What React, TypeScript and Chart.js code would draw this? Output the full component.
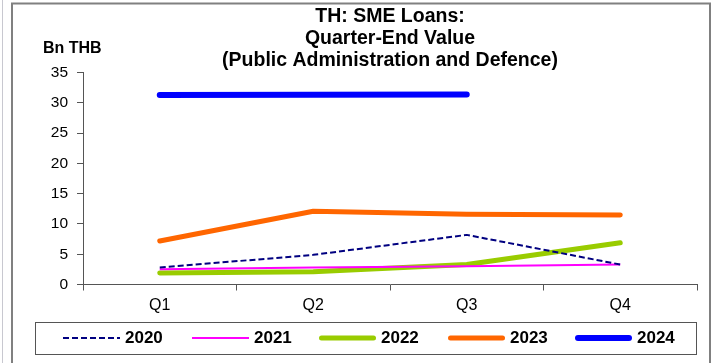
import React, { useEffect, useRef } from "react";
import { Chart, registerables } from "chart.js";

Chart.register(...registerables);

const categories = ["Q1", "Q2", "Q3", "Q4"];
const years = ["2020", "2021", "2022", "2023", "2024"];
const s2020 = [2.8, 4.9, 8.2, 3.3];
const s2021 = [2.5, 2.8, 3.0, 3.3];
const s2022 = [1.9, 2.1, 3.3, 6.9];
const s2023 = [7.2, 12.1, 11.6, 11.5];
const s2024 = [31.3, 31.35, 31.4, null];
const titleLines = ["TH: SME Loans:", "Quarter-End Value", "(Public Administration and Defence)"];
const unitLabel = "Bn THB";

const colors = ["#000080", "#FF00FF", "#99CC00", "#FF6600", "#0000FF"];
const widths = [2, 2, 5, 5, 6];
const dashes: number[][] = [[6, 3], [], [], [], []];

const FONT = "'Liberation Sans', Arial, sans-serif";

export default function App() {
  const ref = useRef<HTMLCanvasElement | null>(null);
  useEffect(() => {
    document.body.style.margin = "0";
    const canvas = ref.current!;
    const seriesList = [s2020, s2021, s2022, s2023, s2024];
    const decor = {
      id: "decor",
      beforeDraw(chart: any) {
        const ctx = chart.ctx;
        ctx.save();
        ctx.fillStyle = "#fff";
        ctx.fillRect(0, 0, chart.width, chart.height);
        ctx.strokeStyle = "#c8c8d0";
        ctx.lineWidth = 1;
        ctx.beginPath();
        ctx.moveTo(2.5, 0);
        ctx.lineTo(2.5, chart.height);
        ctx.stroke();
        ctx.strokeStyle = "#808080";
        ctx.lineWidth = 2;
        ctx.beginPath();
        ctx.moveTo(12, chart.height);
        ctx.lineTo(12, 3.5);
        ctx.lineTo(710, 3.5);
        ctx.lineTo(710, chart.height);
        ctx.stroke();
        ctx.restore();
      },
      afterDraw(chart: any) {
        const ctx = chart.ctx;
        const area = chart.chartArea;
        ctx.save();
        ctx.fillStyle = "#000";
        ctx.textAlign = "center";
        ctx.textBaseline = "middle";
        ctx.font = `bold 19.5px ${FONT}`;
        const cx = (area.left + area.right) / 2;
        titleLines.forEach((t, i) => ctx.fillText(t, cx, 17 + i * 22));
        ctx.font = `bold 16px ${FONT}`;
        ctx.textAlign = "left";
        ctx.fillText(unitLabel, 43, 49);
        // legend
        ctx.strokeStyle = "#555";
        ctx.lineWidth = 1;
        ctx.strokeRect(35.5, 322.5, 661, 32);
        const ly = 338;
        const startX = [63, 192, 319, 448, 575];
        years.forEach((y, i) => {
          const x0 = startX[i];
          ctx.save();
          ctx.strokeStyle = colors[i];
          ctx.lineWidth = widths[i];
          ctx.lineCap = i >= 2 ? "round" : "butt";
          ctx.setLineDash(dashes[i]);
          ctx.beginPath();
          const inset = i >= 2 ? widths[i] / 2 : 0;
          ctx.moveTo(x0 + inset, ly);
          ctx.lineTo(x0 + 57 - inset, ly);
          ctx.stroke();
          ctx.restore();
          ctx.font = `bold 17px ${FONT}`;
          ctx.fillStyle = "#000";
          ctx.textAlign = "left";
          ctx.textBaseline = "middle";
          ctx.fillText(y, x0 + 62, ly);
        });
        ctx.restore();
      },
    };
    const chart = new Chart(canvas, {
      type: "line",
      data: {
        labels: categories,
        datasets: years.map((y, i) => ({
          label: y,
          data: seriesList[i] as any,
          borderColor: colors[i],
          backgroundColor: colors[i],
          borderWidth: widths[i],
          borderDash: dashes[i],
          borderCapStyle: i >= 2 ? "round" : "butt",
          borderJoinStyle: "round",
          pointRadius: 0,
          pointHoverRadius: 0,
          tension: 0,
          spanGaps: false,
          fill: false,
        })),
      },
      options: {
        responsive: false,
        animation: false,
        events: [],
        layout: { padding: { left: 0, right: 15, top: 72.7, bottom: 0 } },
        plugins: {
          legend: { display: false },
          title: { display: false },
          tooltip: { enabled: false },
        },
        scales: {
          x: {
            type: "category",
            offset: true,
            grid: { offset: true, drawOnChartArea: false, drawTicks: true, tickLength: 6, color: "#555" },
            border: { color: "#555", width: 1 },
            ticks: { font: { family: FONT, size: 16 }, color: "#000", padding: 5, maxRotation: 0 },
            afterFit: (axis: any) => {
              axis.height = 363 - 284.5;
            },
          },
          y: {
            min: 0,
            max: 35,
            ticks: { stepSize: 5, font: { family: FONT, size: 15.5 }, color: "#000", padding: 9 },
            grid: { drawOnChartArea: false, drawTicks: true, tickLength: 6, color: "#555" },
            border: { color: "#555", width: 1 },
            afterFit: (axis: any) => {
              axis.width = 83;
            },
          },
        },
      },
      plugins: [decor],
    });
    return () => chart.destroy();
  }, []);
  return (
    <div style={{ width: 712, height: 363 }}>
      <canvas ref={ref} width={712} height={363} style={{ display: "block" }} />
    </div>
  );
}
